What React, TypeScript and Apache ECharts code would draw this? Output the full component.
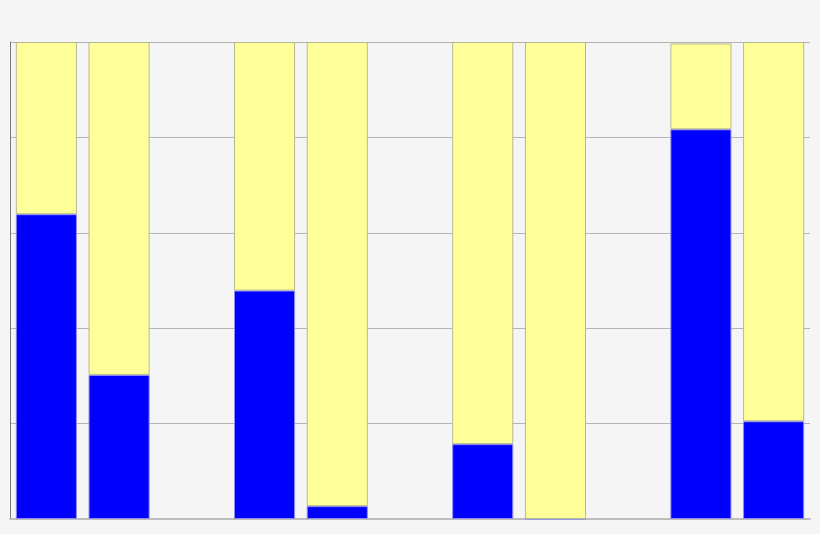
import React, { useEffect, useRef } from 'react';
import * as echarts from 'echarts';

const categories = ['1', '2', '3', '4', '5', '6', '7', '8', '9', '10', '11'];
const blueValues = [63.9, 30.2, null, 47.9, 2.7, null, 15.7, 0, null, 81.7, 20.5];
const yellowValues = [36.1, 69.8, null, 52.1, 97.3, null, 84.3, 100, null, 18.0, 79.5];

const App = () => {
  const chartRef = useRef<HTMLDivElement>(null);

  useEffect(() => {
    if (!chartRef.current) return;
    const chart = echarts.init(chartRef.current, null, { renderer: 'svg' });

    const option: echarts.EChartsOption = {
      animation: false,
      backgroundColor: '#f5f5f5',
      grid: { left: 10, right: 10, top: 42, bottom: 15 },
      xAxis: {
        type: 'category',
        data: categories,
        axisTick: { show: false },
        axisLabel: { show: false },
        axisLine: { lineStyle: { color: '#bdbdbd', width: 2 } },
      },
      yAxis: {
        type: 'value',
        min: 0,
        max: 100,
        interval: 20,
        axisLabel: { show: false },
        axisLine: { show: true, lineStyle: { color: '#7a7a7a', width: 1 } },
        splitLine: { lineStyle: { color: '#b4b4b4', width: 1 } },
      },
      series: [
        {
          name: 'blue',
          type: 'bar',
          stack: 'total',
          barCategoryGap: '16%',
          data: blueValues,
          itemStyle: { color: '#0000ff', borderColor: '#8c8cf0', borderWidth: 1 },
        },
        {
          name: 'yellow',
          type: 'bar',
          stack: 'total',
          barCategoryGap: '16%',
          data: yellowValues,
          itemStyle: { color: '#ffff99', borderColor: '#b8b890', borderWidth: 1 },
        },
      ],
    };
    chart.setOption(option);

    return () => {
      chart.dispose();
    };
  }, []);

  return <div ref={chartRef} style={{ position: 'fixed', left: 0, top: 0, width: 820, height: 534 }} />;
};

export default App;
